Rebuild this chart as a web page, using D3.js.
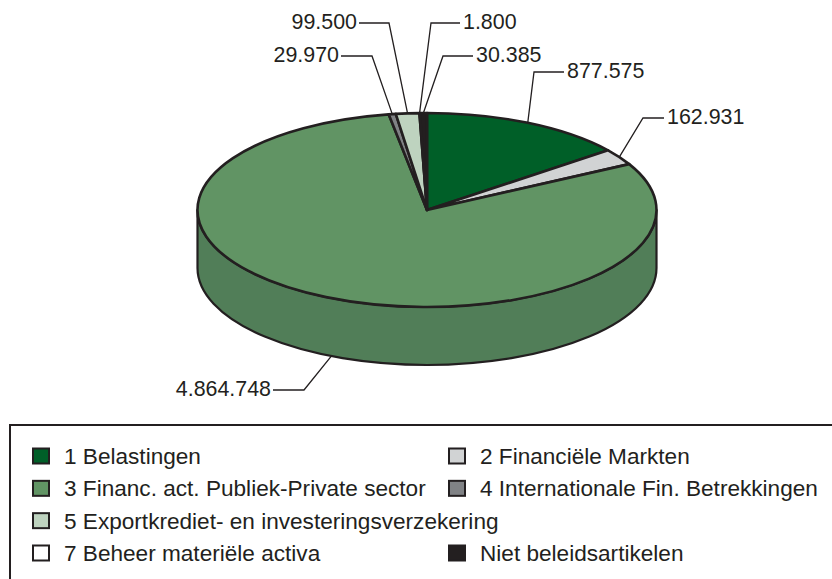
<!DOCTYPE html>
<html>
<head>
<meta charset="utf-8">
<script src="https://cdn.jsdelivr.net/npm/d3@7"></script>
<style>
  html, body { margin: 0; padding: 0; background: #fff; overflow: hidden; }
  svg { display: block; }
</style>
</head>
<body>
<div id="chart"></div>
<script>
const categories = [
  "1 Belastingen", "2 Financiële Markten", "3 Financ. act. Publiek-Private sector",
  "4 Internationale Fin. Betrekkingen", "5 Exportkrediet- en investeringsverzekering",
  "7 Beheer materiële activa", "Niet beleidsartikelen"
];
const values = [877575, 162931, 4864748, 29970, 99500, 1800, 30385];
const valueLabels = ["877.575", "162.931", "4.864.748", "29.970", "99.500", "1.800", "30.385"];
const colors = ["#005f28", "#d1d3d4", "#619464", "#808285", "#bed3bf", "#ffffff", "#231f20"];

const width = 832, height = 579;
const ink = "#231f20";
const font = "'Liberation Sans', sans-serif";
const cx = 427, cy = 210, rx = 229.5, ry = 97, depth = 58;

// label elbows: [elbow x, elbow y, line start x, text side]
const leaders = [
  [534, 72, 564, "end"], [643, 118, 664, "end"], [304, 390, 273, "start"],
  [372, 56, 341, "start"], [389, 23, 359, "start"], [431, 23, 460, "end"], [443, 56, 473, "end"]
];

const svg = d3.select("#chart").append("svg").attr("width", width).attr("height", height);

// Pie: unit radius, squashed to an ellipse
const pieData = d3.pie().value(d => d).sort(null)(values);
const arc = d3.arc().innerRadius(0).outerRadius(1);

// Rim
svg.append("path")
  .attr("d", `M${cx - rx},${cy} V${cy + depth} A${rx},${ry} 0 0 0 ${cx + rx},${cy + depth} V${cy} A${rx},${ry} 0 0 1 ${cx - rx},${cy} Z`)
  .attr("fill", "#517e58").attr("stroke", ink).attr("stroke-width", 2.2).attr("stroke-linejoin", "round");

const pieTop = svg.append("g").attr("transform", `translate(${cx},${cy}) scale(${rx},${ry})`);
pieTop.selectAll("path").data(pieData).join("path")
  .attr("d", arc)
  .attr("fill", (d, i) => colors[i])
  .attr("stroke", ink).attr("stroke-width", 2.6)
  .attr("stroke-linejoin", "round")
  .attr("vector-effect", "non-scaling-stroke");

// Leader lines and value labels
const rimAngle = Math.PI + 0.43; // big slice's label sits on the rim, not the slice middle
const edge = (d, i) => {
  const below = i === 2;
  const a = below ? rimAngle : (d.startAngle + d.endAngle) / 2;
  return [cx + rx * Math.sin(a), cy - ry * Math.cos(a) + (below ? depth : 0)];
};
pieData.forEach((d, i) => {
  const [ex, ey, sx, side] = leaders[i];
  const [ax, ay] = edge(d, i);
  svg.append("path").attr("d", d3.line()([[sx, ey], [ex, ey], [ax, ay]]))
    .attr("fill", "none").attr("stroke", ink).attr("stroke-width", 1.3);
  svg.append("text")
    .attr("x", side === "end" ? sx + 3 : sx - 2)
    .attr("y", ey - 1.5)
    .attr("dy", "0.35em")
    .attr("text-anchor", side === "end" ? "start" : "end")
    .attr("font-family", font).attr("font-size", 21.4).attr("fill", ink)
    .text(valueLabels[i]);
});

// Legend box runs off the right and bottom of the picture
svg.append("rect").attr("x", 10).attr("y", 425).attr("width", 840).attr("height", 180)
  .attr("fill", "none").attr("stroke", ink).attr("stroke-width", 2);

const legendX = d3.scalePoint().domain([0, 1]).range([33, 449]);
const legendY = d3.scalePoint().domain([0, 1, 2, 3]).range([456, 553]);
const legendPos = [[0, 0], [1, 0], [0, 1], [1, 1], [0, 2], [0, 3], [1, 3]];

const legend = svg.append("g").selectAll("g").data(categories).join("g")
  .attr("transform", (d, i) => `translate(${legendX(legendPos[i][0])},${legendY(legendPos[i][1])})`);
legend.append("rect").attr("x", 0).attr("y", -7.5).attr("width", 16).attr("height", 15)
  .attr("fill", (d, i) => colors[i]).attr("stroke", ink).attr("stroke-width", 2);
legend.append("text").attr("x", 31).attr("dy", "0.35em")
  .attr("font-family", font).attr("font-size", 22.6).attr("fill", ink)
  .text(d => d);
</script>
</body>
</html>
